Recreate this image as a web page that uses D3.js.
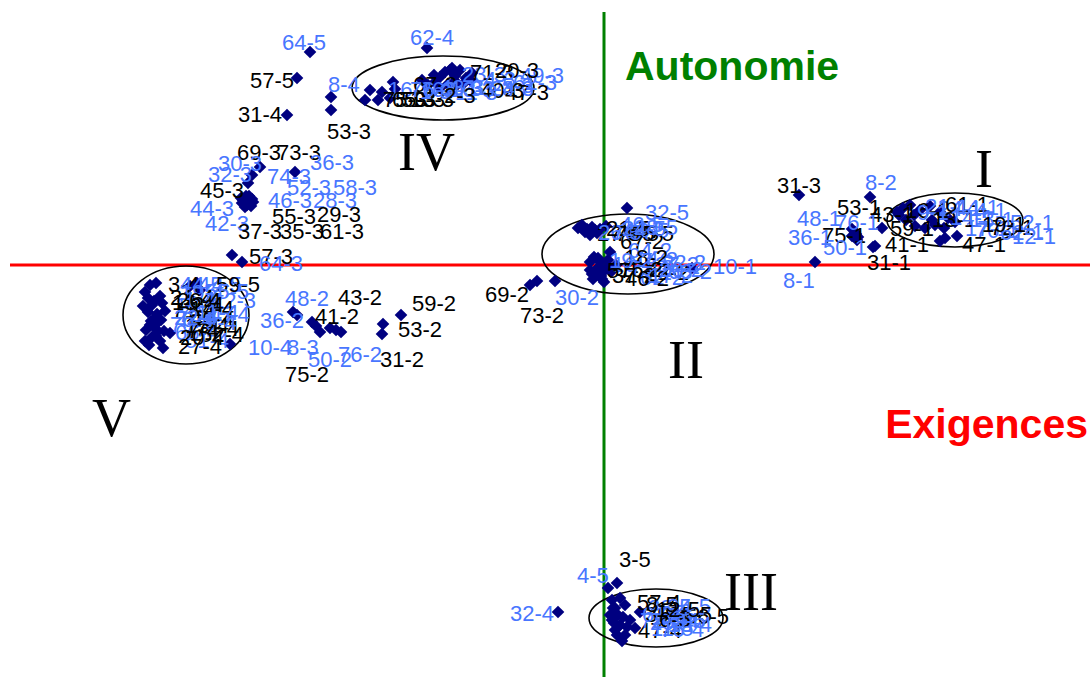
<!DOCTYPE html>
<html><head><meta charset="utf-8">
<script src="https://cdn.jsdelivr.net/npm/d3@7"></script>
<style>html,body{margin:0;padding:0;background:#fff}svg{display:block}</style>
</head><body>
<script>
// ---- DATA: [id, axis1 (Exigences), axis2 (Autonomie), labelGroup 0=black 1=blue]
const outliersTop = [
 ["64-5",-2.94,2.13,1],["57-5",-3.07,1.87,0],["31-4",-3.17,1.50,0],["8-4",-2.34,1.75,1],
 ["53-3",-2.73,1.55,0],["",-2.73,1.68,0],["62-4",-1.77,2.17,1]
];
const groupUpperLeft = [
 ["69-3",-3.44,0.98,0],["73-3",-3.56,0.67,0],["36-3",-3.57,0.63,1],["30-3",-3.52,0.90,1],
 ["32-3",-3.56,0.82,1],["74-3",-3.09,0.93,1],["45-3",-3.61,0.65,0],["52-3",-3.54,0.62,1],
 ["58-3",-3.58,0.69,1],["46-3",-3.52,0.66,1],["28-3",-3.60,0.61,1],["44-3",-3.63,0.67,1],
 ["55-3",-3.55,0.69,0],["29-3",-3.59,0.58,0],["42-3",-3.62,0.62,1],["37-3",-3.53,0.59,0],
 ["35-3",-3.57,0.60,0],["61-3",-3.51,0.63,0],["57-3",-3.72,0.10,0],["64-3",-3.62,0.03,1]
];
const groupLeftMid = [
 ["48-2",-3.11,-0.47,1],["36-2",-3.07,-0.50,1],["43-2",-2.74,-0.63,0],["41-2",-2.92,-0.57,0],
 ["10-4",-3.74,-0.79,1],["8-3",-2.88,-0.61,1],["50-2",-2.68,-0.65,1],["76-2",-2.63,-0.67,1],
 ["75-2",-2.84,-0.67,0],["59-2",-2.03,-0.50,0],["53-2",-2.21,-0.59,0],["31-2",-2.22,-0.69,0],
 ["69-2",-0.74,-0.20,0],["73-2",-0.67,-0.16,0],["30-2",-0.49,-0.16,1]
];
const clusterII = [
 ["32-5",0.23,0.57,1],["27-5",-0.26,0.37,0],["76-5",-0.19,0.33,1],["46-5",-0.12,0.38,1],
 ["70-5",-0.07,0.32,0],["16-5",-0.22,0.40,1],["65-5",-0.14,0.30,0],["26-5",-0.04,0.36,1],
 ["67-2",0.06,0.13,0],["64-2",-0.04,0.03,1],["16-2",-0.14,0.03,1],["57-2",-0.08,-0.05,0],
 ["71-2",-0.03,-0.11,1],["72-2",0.02,-0.03,0],["37-2",-0.06,0.07,0],["27-2",0.07,-0.07,1],
 ["62-2",-0.11,-0.14,1],["46-2",0.00,-0.17,0],["22-2",0.12,0.00,1],["63-2",-0.14,-0.05,1],
 ["10-1",0.88,-0.03,1],["14-2",-0.12,-0.09,1],["15-2",-0.05,-0.02,0],["17-2",-0.01,-0.07,1],
 ["18-2",0.04,0.05,0],["19-2",-0.10,0.08,1],["20-2",-0.02,-0.14,1],["21-5",-0.17,0.36,0],
 ["24-5",-0.09,0.35,1],["28-5",0.02,0.39,1]
];
const clusterI = [
 ["31-3",1.95,0.70,0],["8-2",2.66,0.68,1],["53-1",2.51,0.33,0],["43-1",2.78,0.37,0],
 ["48-1",2.48,0.36,1],["76-1",2.54,0.28,1],["75-1",2.52,0.31,0],["36-1",2.48,0.29,1],
 ["59-1",2.93,0.53,0],["50-1",2.53,0.25,1],["41-1",2.69,0.18,0],["31-1",2.71,0.19,0],
 ["8-1",2.11,0.03,1],["16-1",2.99,0.57,0],["21-1",3.06,0.60,1],["24-1",3.16,0.55,1],
 ["61-1",3.26,0.59,0],["44-1",3.36,0.53,1],["4-1",3.44,0.47,1],["17-1",3.51,0.43,1],
 ["70-1",3.31,0.40,1],["72-1",3.21,0.37,0],["62-1",3.41,0.27,1],["47-1",3.53,0.29,0],
 ["52-1",3.11,0.39,1],["12-1",3.36,0.24,1],["9-1",2.95,0.50,1],["13-1",3.02,0.45,0],
 ["14-1",3.10,0.50,1],["18-1",3.28,0.45,1],["19-1",3.40,0.37,0]
];
const clusterV = [
 ["3-4",-4.54,-0.20,0],["44-4",-4.48,-0.18,1],["45-5",-4.07,-0.18,1],["59-5",-4.14,-0.21,0],
 ["55-5",-4.04,-0.25,1],["12-3",-4.56,-0.33,1],["21-4",-4.52,-0.40,0],["17-4",-4.56,-0.47,1],
 ["71-4",-4.49,-0.53,0],["73-4",-4.54,-0.60,1],["40-4",-4.46,-0.57,0],["70-4",-4.58,-0.65,1],
 ["74-4",-4.52,-0.72,0],["66-4",-4.44,-0.76,1],["52-4",-4.55,-0.80,0],["51-4",-4.41,-0.83,1],
 ["27-4",-4.34,-0.68,0],["5-4",-4.59,-0.27,1],["18-4",-4.61,-0.41,0],["19-4",-4.44,-0.31,1],
 ["14-4",-4.39,-0.46,0],["15-4",-4.46,-0.66,0],["9-4",-4.59,-0.76,1],["1-4",-4.50,-0.36,1],
 ["2-4",-4.47,-0.49,0],["6-4",-4.50,-0.62,1],["7-4",-4.48,-0.71,0],["11-4",-4.43,-0.55,1],
 ["20-4",-4.40,-0.66,0],["22-4",-4.53,-0.56,1],["26-4",-4.42,-0.38,0]
];
const clusterIII = [
 ["3-5",0.13,-3.18,0],["4-5",0.04,-3.23,1],["32-4",-0.46,-3.47,1],["57-4",0.16,-3.33,0],
 ["25-5",0.11,-3.43,1],["35-5",0.14,-3.50,0],["56-5",0.21,-3.40,0],["47-4",0.16,-3.60,0],
 ["76-4",0.26,-3.55,1],["72-4",0.11,-3.65,1],["29-4",0.21,-3.70,1],["39-4",0.31,-3.63,0],
 ["41-4",0.36,-3.47,1],["61-4",0.08,-3.55,1],["23-4",0.08,-3.35,1],["13-4",0.18,-3.76,1],
 ["2-5",0.10,-3.58,1],["6-5",0.14,-3.62,0],["7-5",0.19,-3.52,1],["8-5",0.09,-3.43,0],
 ["9-5",0.23,-3.62,1],["11-5",0.13,-3.70,1],["12-5",0.06,-3.50,0]
];
const clusterIV = [
 ["16-3",-2.22,1.73,1],["75-3",-2.39,1.65,0],["65-3",-2.26,1.65,0],["59-3",-2.14,1.67,0],
 ["13-3",-2.11,1.83,0],["67-3",-2.09,1.76,0],["76-3",-1.64,1.88,1],["63-3",-1.59,1.93,1],
 ["10-3",-1.54,1.95,1],["33-3",-1.49,1.89,1],["23-3",-1.44,1.95,1],["71-3",-1.38,1.87,0],
 ["62-3",-1.69,1.83,1],["47-3",-1.34,1.85,0],["24-3",-1.76,1.80,1],["40-3",-1.82,1.85,0],
 ["43-3",-1.56,1.81,1],["49-3",-1.46,1.81,1],["20-3",-1.32,1.92,0],["11-3",-1.64,1.77,1],
 ["1-3",-1.70,1.90,1],["2-3",-1.50,1.83,0],["4-3",-1.40,1.82,1],["5-3",-1.52,1.97,1]
];
// label anchor (left edge of text, baseline) in axis units
const labelAt = {
 "64-5":[-3.22,2.15],"57-5":[-3.54,1.77],"31-4":[-3.66,1.43],"8-4":[-2.76,1.73],"53-3":[-2.77,1.26],
 "62-4":[-1.94,2.20],
 "69-3":[-3.67,1.05],"73-3":[-3.27,1.05],"36-3":[-2.94,0.95],"30-3":[-3.86,0.94],"32-3":[-3.96,0.83],
 "74-3":[-3.37,0.81],"45-3":[-4.04,0.67],"52-3":[-3.17,0.70],"58-3":[-2.71,0.70],"46-3":[-3.36,0.57],
 "28-3":[-2.91,0.57],"44-3":[-4.14,0.49],"55-3":[-3.32,0.41],"29-3":[-2.87,0.43],"42-3":[-3.99,0.34],
 "37-3":[-3.66,0.26],"35-3":[-3.24,0.26],"61-3":[-2.84,0.26],"57-3":[-3.55,0.01],"64-3":[-3.45,-0.06],
 "48-2":[-3.19,-0.41],"36-2":[-3.44,-0.63],"43-2":[-2.66,-0.40],"41-2":[-2.89,-0.59],"10-4":[-3.56,-0.90],
 "8-3":[-3.17,-0.90],"50-2":[-2.96,-1.02],"76-2":[-2.66,-0.97],"75-2":[-3.19,-1.17],"59-2":[-1.92,-0.46],
 "53-2":[-2.06,-0.72],"31-2":[-2.24,-1.02],"69-2":[-1.19,-0.37],"73-2":[-0.84,-0.58],"30-2":[-0.49,-0.40],
 "32-5":[0.41,0.45],"27-5":[-0.07,0.24],"76-5":[0.08,0.25],"46-5":[0.16,0.33],"70-5":[0.11,0.24],
 "16-5":[0.21,0.27],"65-5":[0.26,0.24],"26-5":[-0.06,0.25],"67-2":[0.16,0.16],"64-2":[0.24,0.07],
 "16-2":[0.08,-0.07],"57-2":[0.03,-0.13],"71-2":[0.26,-0.10],"72-2":[0.41,-0.15],"37-2":[0.08,-0.18],
 "27-2":[0.51,-0.07],"62-2":[0.36,-0.20],"46-2":[0.21,-0.21],"22-2":[0.58,-0.05],"63-2":[0.64,-0.14],
 "10-1":[1.09,-0.09],"14-2":[0.30,-0.02],"15-2":[0.15,-0.12],"17-2":[0.45,-0.18],"18-2":[0.20,0.00],
 "19-2":[0.05,-0.03],"20-2":[0.55,-0.12],"21-5":[0.02,0.29],"24-5":[0.18,0.29],"28-5":[0.30,0.30],
 "31-3":[1.73,0.72],"8-2":[2.61,0.75],"53-1":[2.33,0.50],"43-1":[2.66,0.43],"48-1":[1.93,0.39],
 "76-1":[2.31,0.35],"75-1":[2.18,0.22],"36-1":[1.84,0.20],"59-1":[2.86,0.29],"50-1":[2.19,0.10],
 "41-1":[2.81,0.13],"31-1":[2.63,-0.05],"8-1":[1.79,-0.23],"16-1":[3.01,0.47],"21-1":[3.21,0.51],
 "24-1":[3.34,0.49],"61-1":[3.41,0.53],"44-1":[3.51,0.50],"4-1":[3.71,0.47],"17-1":[3.61,0.29],
 "70-1":[3.71,0.27],"72-1":[3.86,0.30],"62-1":[3.96,0.25],"47-1":[3.58,0.13],"52-1":[4.06,0.35],
 "12-1":[4.08,0.21],"9-1":[3.13,0.45],"13-1":[3.28,0.38],"14-1":[3.46,0.40],"18-1":[3.66,0.38],
 "19-1":[3.78,0.33],
 "3-4":[-4.36,-0.27],"44-4":[-4.24,-0.27],"45-5":[-4.06,-0.27],"59-5":[-3.88,-0.27],"55-5":[-3.99,-0.34],
 "12-3":[-3.92,-0.43],"21-4":[-4.34,-0.40],"17-4":[-4.29,-0.48],"71-4":[-4.32,-0.53],"73-4":[-4.26,-0.57],
 "40-4":[-4.14,-0.61],"70-4":[-4.34,-0.67],"74-4":[-4.09,-0.71],"66-4":[-4.29,-0.75],"52-4":[-4.04,-0.77],
 "51-4":[-4.19,-0.83],"27-4":[-4.26,-0.89],"5-4":[-3.86,-0.57],"18-4":[-4.32,-0.45],"19-4":[-4.24,-0.35],
 "14-4":[-4.14,-0.51],"15-4":[-4.19,-0.68],"9-4":[-3.99,-0.65],"1-4":[-4.20,-0.42],"2-4":[-4.12,-0.47],
 "6-4":[-4.22,-0.62],"7-4":[-4.17,-0.73],"11-4":[-4.08,-0.55],"20-4":[-4.24,-0.80],"22-4":[-4.30,-0.60],
 "26-4":[-4.27,-0.43],
 "3-5":[0.15,-3.02],"4-5":[-0.27,-3.18],"32-4":[-0.94,-3.56],"57-4":[0.33,-3.45],"25-5":[0.63,-3.49],
 "35-5":[0.64,-3.57],"56-5":[0.81,-3.59],"47-4":[0.34,-3.73],"76-4":[0.56,-3.72],"72-4":[0.36,-3.63],
 "29-4":[0.46,-3.65],"39-4":[0.41,-3.57],"41-4":[0.51,-3.63],"61-4":[0.38,-3.57],"23-4":[0.44,-3.50],
 "13-4":[0.64,-3.67],"2-5":[0.50,-3.55],"6-5":[0.55,-3.62],"7-5":[0.60,-3.58],"8-5":[0.42,-3.47],
 "9-5":[0.70,-3.63],"11-5":[0.47,-3.71],"12-5":[0.52,-3.52],
 "16-3":[-2.16,1.68],"75-3":[-2.21,1.58],"65-3":[-2.12,1.58],"59-3":[-2.03,1.58],"13-3":[-1.94,1.58],
 "67-3":[-1.91,1.73],"76-3":[-1.94,1.68],"63-3":[-1.72,1.68],"10-3":[-1.54,1.68],"33-3":[-1.34,1.69],
 "23-3":[-1.42,1.83],"71-3":[-1.34,1.85],"62-3":[-0.91,1.75],"47-3":[-0.99,1.65],"24-3":[-1.14,1.69],
 "40-3":[-1.24,1.67],"43-3":[-1.64,1.70],"49-3":[-0.84,1.82],"20-3":[-1.09,1.87],"11-3":[-1.49,1.65],
 "1-3":[-1.84,1.66],"2-3":[-1.60,1.62],"4-3":[-1.20,1.78],"5-3":[-1.02,1.72]
};
// cluster ellipses: [centre x, centre y, radius x, radius y]
const ellipses = [[-1.61,1.77,0.91,0.32],[0.24,0.11,0.86,0.40],[3.51,0.45,0.68,0.27],[-4.18,-0.50,0.63,0.49],[0.52,-3.53,0.67,0.29]];
const romanLabels = ["IV","I","II","III","V"];
const romanAt = [[-2.06,0.95],[3.71,0.78],[0.64,-1.13],[1.20,-3.45],[-5.12,-1.71]];
const axisNames = ["Exigences","Autonomie"];

// ---- CHART
const W = 1090, H = 677;
const x = d3.scaleLinear().domain([-6.04, 4.86]).range([0, W]);
const y = d3.scaleLinear().domain([2.65, -4.12]).range([0, H]);
const labelColor = d3.scaleOrdinal().domain([0,1]).range(["#000000","#4876FF"]);

const svg = d3.select("body").append("svg").attr("width", W).attr("height", H);

// axes lines
svg.append("line").attr("x1", x(-5.94)).attr("x2", x(4.86)).attr("y1", y(0)).attr("y2", y(0))
  .attr("stroke", "#ff0000").attr("stroke-width", 3);
svg.append("line").attr("x1", x(0)).attr("x2", x(0)).attr("y1", y(2.53)).attr("y2", y(-4.12))
  .attr("stroke", "#008000").attr("stroke-width", 3);

// ellipses
svg.selectAll("ellipse").data(ellipses).join("ellipse")
  .attr("cx", d => x(d[0])).attr("cy", d => y(d[1]))
  .attr("rx", d => x(d[2]) - x(0)).attr("ry", d => y(0) - y(d[3]))
  .attr("fill", "none").attr("stroke", "#000").attr("stroke-width", 1.6);

const all = [].concat(outliersTop, groupUpperLeft, groupLeftMid, clusterII, clusterI, clusterV, clusterIII, clusterIV);

// points (diamonds)
const diamond = d3.symbol().type(d3.symbolSquare).size(80);
svg.append("g").selectAll("path").data(all).join("path")
  .attr("d", diamond)
  .attr("transform", d => `translate(${x(d[1])},${y(d[2])}) rotate(45)`)
  .attr("fill", "#000080");

// labels
svg.append("g").selectAll("text").data(all.filter(d => d[0] && labelAt[d[0]])).join("text")
  .attr("x", d => x(labelAt[d[0]][0])).attr("y", d => y(labelAt[d[0]][1]))
  .attr("fill", d => labelColor(d[3]))
  .attr("font-family", "Liberation Sans, Arial, sans-serif").attr("font-size", 22)
  .text(d => d[0]);

// roman numerals
svg.append("g").selectAll("text").data(romanLabels).join("text")
  .attr("x", (d,i) => x(romanAt[i][0])).attr("y", (d,i) => y(romanAt[i][1]))
  .attr("font-family", "Liberation Serif, Times New Roman, serif").attr("font-size", 54)
  .attr("fill", "#000").text(d => d);

// axis names
svg.append("text").attr("x", x(0.21)).attr("y", y(1.85))
  .attr("font-family", "Liberation Sans, Arial, sans-serif").attr("font-weight", "bold")
  .attr("font-size", 41).attr("fill", "#008000").text(axisNames[1]);
svg.append("text").attr("x", x(4.84)).attr("y", y(-1.73)).attr("text-anchor", "end")
  .attr("font-family", "Liberation Sans, Arial, sans-serif").attr("font-weight", "bold")
  .attr("font-size", 41).attr("fill", "#ff0000").text(axisNames[0]);
</script>
</body></html>
